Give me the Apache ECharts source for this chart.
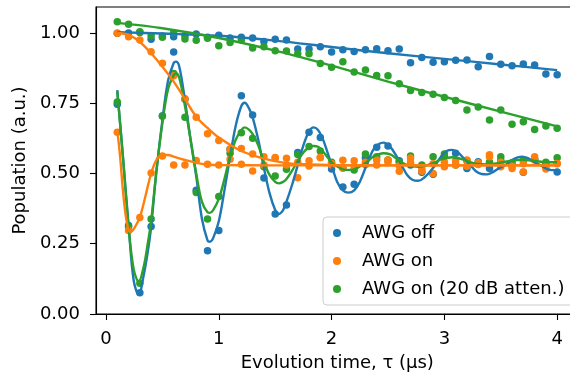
<!DOCTYPE html>
<html>
<head>
<meta charset="utf-8">
<script src="https://cdn.jsdelivr.net/npm/echarts@6/dist/echarts.min.js"></script>
<style>html,body{margin:0;padding:0;background:#fff;overflow:hidden}#c{width:570px;height:373px}</style>
</head>
<body>
<div id="c"></div>
<script>
// ---- data ----
const tau = [0.1,0.2,0.3,0.4,0.5,0.6,0.7,0.8,0.9,1.0,1.1,1.2,1.3,1.4,1.5,1.6,1.7,1.8,1.9,2.0,2.1,2.2,2.3,2.4,2.5,2.6,2.7,2.8,2.9,3.0,3.1,3.2,3.3,3.4,3.5,3.6,3.7,3.8,3.9,4.0];
const offT1 = [0.999,1.000,1.002,0.978,0.989,0.987,0.990,0.996,0.985,0.992,0.982,0.985,0.982,0.970,0.978,0.975,0.943,0.943,0.951,0.932,0.940,0.934,0.940,0.944,0.937,0.943,0.894,0.913,0.896,0.898,0.903,0.904,0.880,0.916,0.889,0.883,0.890,0.886,0.854,0.851];
const offRamsey = [0.746,0.315,0.076,0.311,0.705,0.932,0.764,0.440,0.225,0.297,0.586,0.777,0.708,0.484,0.356,0.388,0.575,0.647,0.628,0.516,0.452,0.462,0.556,0.593,0.598,0.545,0.530,0.504,0.497,0.560,0.572,0.518,0.542,0.518,0.546,0.530,0.504,0.550,0.535,0.505];
const onT1 = [0.999,0.987,0.975,0.933,0.892,0.848,0.766,0.700,0.641,0.617,0.586,0.589,0.569,0.560,0.554,0.554,0.485,0.527,0.557,0.536,0.520,0.545,0.531,0.548,0.540,0.508,0.555,0.508,0.500,0.540,0.545,0.526,0.532,0.567,0.540,0.526,0.505,0.548,0.525,0.535];
const onRamsey = [0.647,0.297,0.343,0.502,0.562,0.530,0.530,0.546,0.533,0.530,0.551,0.533,0.509,0.530,0.557,0.530,0.540,0.545,0.557,0.530,0.547,0.525,0.540,0.530,0.548,0.528,0.540,0.520,0.535,0.524,0.530,0.548,0.538,0.560,0.524,0.518,0.535,0.560,0.516,0.536];
const attT1 = [1.040,1.031,1.004,0.990,0.985,1.001,0.979,0.974,0.981,0.955,0.966,0.975,0.947,0.951,0.937,0.936,0.926,0.926,0.891,0.878,0.898,0.861,0.868,0.849,0.848,0.819,0.795,0.788,0.782,0.770,0.760,0.726,0.737,0.690,0.726,0.675,0.684,0.657,0.669,0.661];
const attRamsey = [0.754,0.310,0.109,0.338,0.705,0.856,0.700,0.432,0.338,0.418,0.572,0.645,0.625,0.524,0.491,0.515,0.568,0.596,0.580,0.540,0.520,0.512,0.569,0.560,0.548,0.540,0.562,0.530,0.560,0.569,0.530,0.545,0.535,0.540,0.560,0.538,0.546,0.550,0.540,0.556];

// fitted curves
const offT1FitX = [0.1,0.5,1.0,1.5,2.0,2.5,3.0,3.5,4.0];
const offT1FitY = [1.003,0.998,0.990,0.973,0.950,0.928,0.908,0.888,0.868];
const attT1FitX = [0.1,0.5,1.0,1.5,2.0,2.5,3.0,3.5,4.0];
const attT1FitY = [1.036,1.017,0.982,0.937,0.884,0.827,0.773,0.720,0.668];
const onT1FitX = [0.1,0.2,0.3,0.4,0.5,0.6,0.7,0.8,0.9,1.0,1.2,1.4,1.6,1.8,2.0,2.5,3.0,3.5,4.0];
const onT1FitY = [1.000,0.993,0.968,0.928,0.880,0.827,0.765,0.702,0.662,0.628,0.580,0.553,0.537,0.532,0.530,0.529,0.529,0.529,0.529];
const offRamFitX = [0.10,0.15,0.20,0.245,0.29,0.335,0.37,0.40,0.445,0.50,0.55,0.60,0.62,0.65,0.70,0.75,0.80,0.85,0.90,0.92,0.95,1.00,1.05,1.10,1.15,1.20,1.23,1.27,1.30,1.35,1.40,1.45,1.50,1.53,1.57,1.60,1.65,1.70,1.75,1.80,1.84,1.88,1.92,1.96,2.00,2.05,2.10,2.15,2.20,2.25,2.31,2.37,2.42,2.46,2.52,2.57,2.62,2.67,2.72,2.77,2.82,2.87,2.92,2.97,3.02,3.07,3.12,3.18,3.23,3.28,3.33,3.38,3.43,3.49,3.54,3.60,3.65,3.69,3.74,3.80,3.85,3.90,3.95,4.00];
const offRamFitY = [0.797,0.56,0.317,0.12,0.068,0.14,0.22,0.31,0.50,0.69,0.83,0.893,0.898,0.88,0.76,0.62,0.49,0.34,0.262,0.257,0.27,0.33,0.44,0.56,0.67,0.74,0.752,0.73,0.70,0.62,0.52,0.43,0.37,0.356,0.37,0.40,0.46,0.53,0.60,0.65,0.664,0.655,0.625,0.58,0.53,0.47,0.44,0.432,0.44,0.47,0.53,0.585,0.605,0.61,0.595,0.565,0.53,0.495,0.477,0.474,0.485,0.505,0.53,0.56,0.58,0.584,0.575,0.55,0.53,0.508,0.498,0.497,0.505,0.52,0.53,0.548,0.557,0.56,0.555,0.54,0.53,0.518,0.512,0.512];
const attRamFitX = [0.10,0.15,0.20,0.245,0.29,0.335,0.37,0.40,0.45,0.50,0.55,0.60,0.62,0.65,0.70,0.75,0.80,0.85,0.90,0.92,0.95,1.00,1.05,1.10,1.15,1.20,1.23,1.27,1.30,1.35,1.40,1.45,1.50,1.53,1.57,1.60,1.65,1.70,1.75,1.80,1.84,1.88,1.92,1.96,2.00,2.05,2.10,2.15,2.20,2.25,2.31,2.37,2.46,2.52,2.57,2.62,2.67,2.77,2.87,2.92,2.97,3.07,3.18,3.23,3.28,3.38,3.49,3.54,3.65,3.69,3.80,3.90,4.00];
const attRamFitY = [0.791,0.56,0.31,0.16,0.115,0.17,0.25,0.33,0.52,0.68,0.80,0.85,0.856,0.84,0.74,0.62,0.50,0.40,0.362,0.36,0.37,0.41,0.48,0.56,0.62,0.655,0.664,0.655,0.64,0.60,0.54,0.495,0.47,0.465,0.47,0.48,0.51,0.545,0.575,0.593,0.598,0.595,0.58,0.56,0.54,0.525,0.515,0.513,0.515,0.525,0.54,0.56,0.572,0.568,0.555,0.54,0.53,0.524,0.532,0.54,0.55,0.558,0.548,0.54,0.535,0.532,0.538,0.542,0.548,0.549,0.545,0.54,0.54];
const onRamFitX = [0.10,0.125,0.15,0.175,0.20,0.22,0.25,0.30,0.35,0.40,0.45,0.50,0.55,0.60,0.70,0.80,0.90,1.00,1.50,2.00,3.00,4.00];
const onRamFitY = [0.655,0.56,0.44,0.35,0.30,0.292,0.305,0.345,0.42,0.50,0.55,0.566,0.566,0.56,0.548,0.538,0.532,0.53,0.529,0.529,0.529,0.529];

const xTicks = [0,1,2,3,4];
const yTicks = [0,0.25,0.5,0.75,1.0];
const names = ['AWG off','AWG on','AWG on (20 dB atten.)'];
const colors = ['#1f77b4','#ff7f0e','#2ca02c'];

// ---- build ----
const pair = (xs, ys) => xs.map((x, i) => [x, ys[i]]);
const font = 'DejaVu Sans';
function pts(name, color, ys) {
  return {type:'scatter', name, data: pair(tau, ys), symbol:'circle', symbolSize:7.5,
          itemStyle:{color, opacity:1}, z:2};
}
function fit(color, xs, ys) {
  return {type:'line', name: '_fit', data: pair(xs, ys), showSymbol:false, symbol:'none',
          smooth:0.35, lineStyle:{color, width:2.4}, z:3, silent:true};
}
const series = [
  pts(names[0], colors[0], offT1), pts(names[0], colors[0], offRamsey),
  pts(names[2], colors[2], attT1), pts(names[2], colors[2], attRamsey),
  pts(names[1], colors[1], onT1), pts(names[1], colors[1], onRamsey),
  fit(colors[0], offT1FitX, offT1FitY), fit(colors[0], offRamFitX, offRamFitY),
  fit(colors[2], attT1FitX, attT1FitY), fit(colors[2], attRamFitX, attRamFitY),
  fit(colors[1], onT1FitX, onT1FitY), fit(colors[1], onRamFitX, onRamFitY)
];

const chart = echarts.init(document.getElementById('c'), null, {renderer:'canvas'});
chart.setOption({
  animation:false,
  textStyle:{fontFamily:font},
  color: colors,
  grid:{left:96, top:7, width:482.6, height:307, outerBoundsMode:'none', containLabel:false,
        show:true, borderColor:'#000', borderWidth:1.1, backgroundColor:'transparent'},
  legend:{
    data: names.map(n => ({name:n, icon:'circle'})),
    orient:'vertical', left:323, top:217,
    padding:[6,14,6,10], itemWidth:8, itemHeight:8, itemGap:8,
    backgroundColor:'rgba(255,255,255,0.8)', borderColor:'#cccccc', borderWidth:1, borderRadius:4,
    formatter: n => '{g|}' + n,
    textStyle:{fontFamily:font, fontSize:18, color:'#000', lineHeight:20,
      rich:{g:{width:16}}},
    selectedMode:false
  },
  xAxis:{
    type:'value', min:-0.0887, max:4.19,
    axisLine:{show:true, onZero:false, lineStyle:{color:'#000', width:1.1}},
    axisTick:{show:true, length:6, customValues:xTicks, lineStyle:{color:'#000', width:1.1}},
    axisLabel:{customValues:xTicks, fontSize:18, color:'#000', margin:16, fontFamily:font, formatter:v=>String(v)},
    splitLine:{show:false},
    name:'Evolution time, τ (μs)', nameLocation:'middle', nameGap:40,
    nameTextStyle:{fontSize:18, color:'#000', fontFamily:font}
  },
  yAxis:{
    type:'value', min:0, max:1.0925,
    axisLine:{show:true, onZero:false, lineStyle:{color:'#000', width:1.1}},
    axisTick:{show:true, length:6, customValues:yTicks, lineStyle:{color:'#000', width:1.1}},
    axisLabel:{customValues:yTicks, fontSize:18, color:'#000', margin:16, fontFamily:font, formatter:v=>v.toFixed(2)},
    splitLine:{show:false},
    name:'Population (a.u.)', nameLocation:'middle', nameGap:60, nameRotate:90,
    nameTextStyle:{fontSize:18, color:'#000', fontFamily:font}
  },
  series
});
</script>
</body>
</html>
